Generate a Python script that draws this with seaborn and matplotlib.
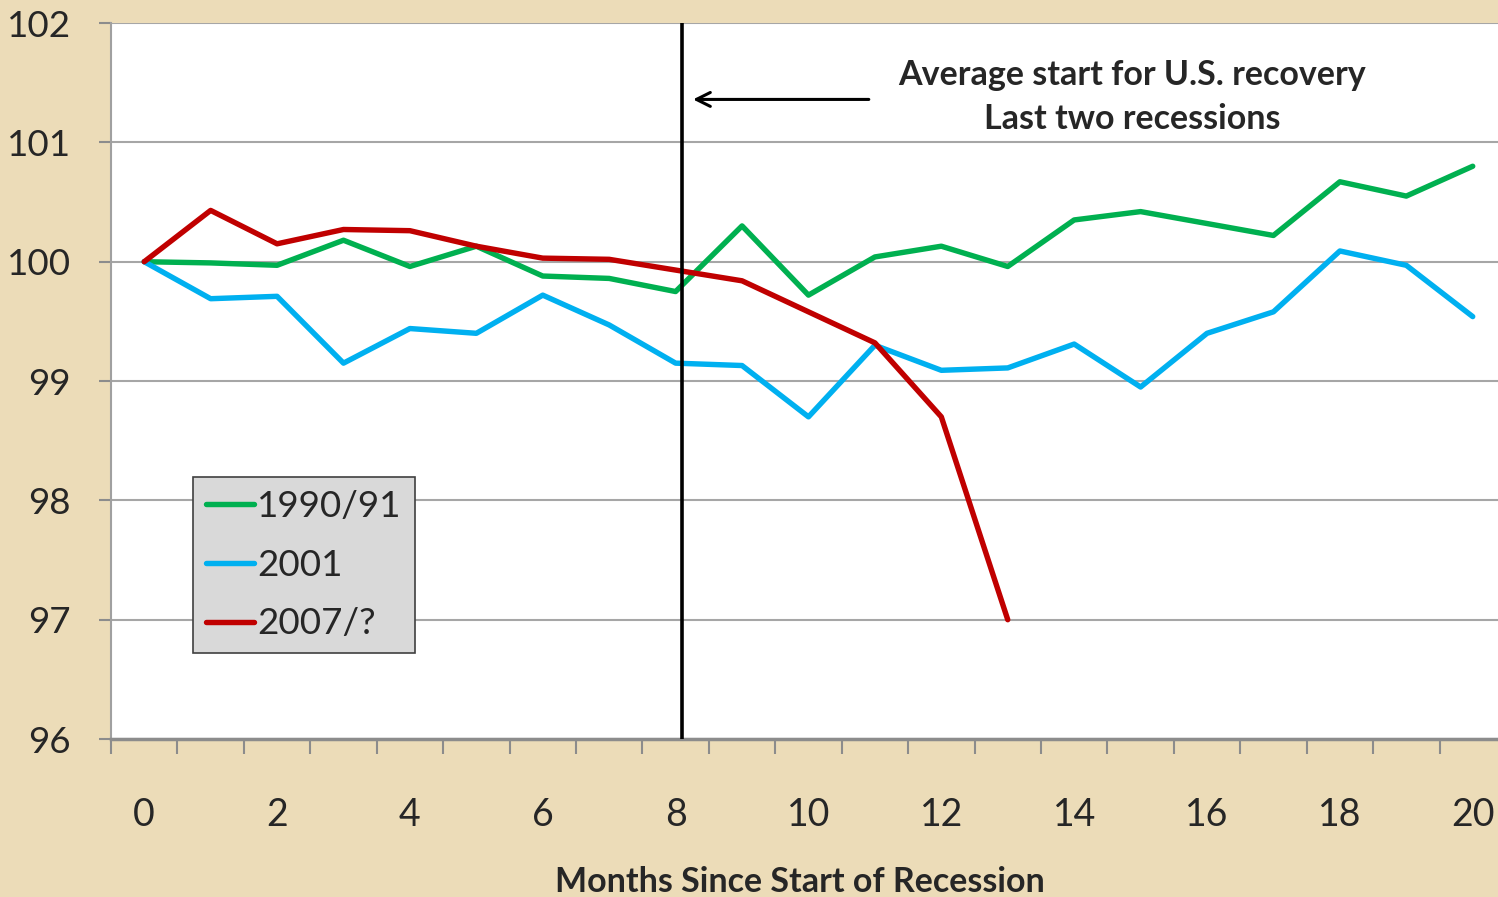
import matplotlib
matplotlib.use("Agg")
import matplotlib.pyplot as plt
import numpy as np
import pandas as pd
import seaborn as sns

# Index values, months since start of recession
months = list(range(21))
green_1990 = [100.0, 99.99, 99.97, 100.18, 99.96, 100.13, 99.88, 99.86, 99.75, 100.30, 99.72,
              100.04, 100.13, 99.96, 100.35, 100.42, 100.32, 100.22, 100.67, 100.55, 100.80]
blue_2001 = [100.0, 99.69, 99.71, 99.15, 99.44, 99.40, 99.72, 99.47, 99.15, 99.13, 98.70,
             99.30, 99.09, 99.11, 99.31, 98.95, 99.40, 99.58, 100.09, 99.97, 99.54]
red_2007 = [100.0, 100.43, 100.15, 100.27, 100.26, 100.13, 100.03, 100.02, 99.93, 99.84, 99.58,
            99.32, 98.70, 97.00]
series_names = ["1990/91", "2001", "2007/?"]
series_colors = ["#00b050", "#00b0f0", "#c00000"]
x_ticks = list(range(0, 21, 2))
y_ticks = [96, 97, 98, 99, 100, 101, 102]
recovery_month = 8.1

df = pd.concat([
    pd.DataFrame({"month": months, "value": green_1990, "series": series_names[0]}),
    pd.DataFrame({"month": months, "value": blue_2001, "series": series_names[1]}),
    pd.DataFrame({"month": months[:len(red_2007)], "value": red_2007, "series": series_names[2]}),
])

sns.set_style("white")
plt.rcParams["font.family"] = ["Lato", "DejaVu Sans"]

bg = "#ecdcb8"
fig = plt.figure(figsize=(14.98, 8.97), dpi=100, facecolor=bg)
ax = fig.add_axes([0.0741, 0.1761, 0.9312, 0.7982])
ax.set_facecolor("white")

sns.lineplot(data=df, x="month", y="value", hue="series", palette=series_colors,
             linewidth=3.9, ax=ax, legend=True)

ax.set_xlim(-0.5, 20.5)
ax.set_ylim(96, 102)
ax.set_yticks(y_ticks)
ax.set_yticklabels([str(v) for v in y_ticks], fontsize=26.5)
ax.set_xticks(x_ticks)
ax.set_xticklabels([str(v) for v in x_ticks], fontsize=27)
ax.set_xticks(np.arange(-0.5, 21, 1), minor=True)
ax.tick_params(axis="x", which="major", bottom=False, pad=38)
ax.tick_params(axis="x", which="minor", bottom=True, length=11, width=1.5,
               color="#8c8c8c", direction="out")
ax.tick_params(axis="y", which="major", left=True, length=9, width=1.5,
               color="#8c8c8c", pad=20)
ax.grid(axis="y", color="#a6a6a6", linewidth=1.5)
ax.set_axisbelow(True)

for side in ["top", "right"]:
    ax.spines[side].set_visible(False)
ax.spines["left"].set_color("#a0a0a0")
ax.spines["left"].set_linewidth(1.5)
ax.spines["bottom"].set_color("#8c8c8c")
ax.spines["bottom"].set_linewidth(2.5)

ax.set_xlabel("")
ax.set_ylabel("")
fig.text(0.534, 0.017, "Months Since Start of Recession", ha="center", va="center",
         fontsize=24.5, fontweight="bold")

# recovery marker
ax.axvline(recovery_month, color="black", linewidth=2.6, zorder=5)
ax.annotate("", xy=(8.22, 101.36), xytext=(10.95, 101.36),
            arrowprops=dict(arrowstyle="->", color="black", lw=2.2, mutation_scale=25))
ax.text(14.87, 101.38, "Average start for U.S. recovery\nLast two recessions",
        ha="center", va="center", fontsize=24.5, fontweight="bold", linespacing=1.45)

leg = ax.legend(loc="upper left", bbox_to_anchor=(0.0588, 0.366), borderaxespad=0,
                fontsize=26.5, frameon=True, fancybox=False, handlelength=1.3,
                handletextpad=0.1, labelspacing=0.7, borderpad=0.35)
leg.get_frame().set_facecolor("#d9d9d9")
leg.get_frame().set_edgecolor("#404040")
leg.get_frame().set_linewidth(1.2)
leg.get_frame().set_alpha(1)

fig.savefig("out.png", dpi=100, facecolor=bg)
